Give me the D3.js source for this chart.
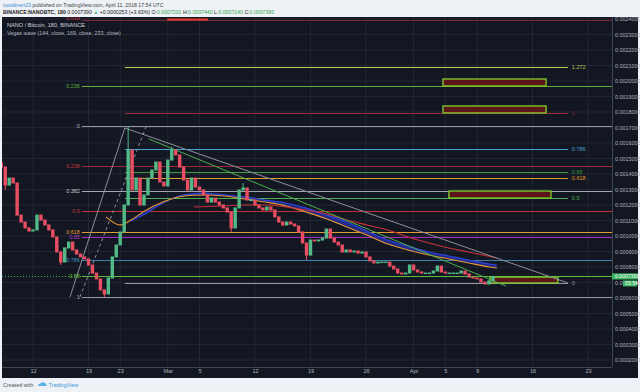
<!DOCTYPE html>
<html>
<head>
<meta charset="utf-8">
<script src="https://cdn.jsdelivr.net/npm/d3@7"></script>
<style>
  body { margin: 0; background: #eef1f5; }
  svg { display: block; font-family: "Liberation Sans", Arial, sans-serif; }
</style>
</head>
<body>
<svg id="chart" width="640" height="392"></svg>
<script>
// ---- data ----------------------------------------------------------------

// 12h closes from 2018-02-08 00:00 UTC
const candleStart = '2018-02-08T00:00:00Z'
const candleHours = 12
const firstOpen = 0.00147
const closes = [
  0.001445, 0.001329, 0.001374, 0.001342, 0.001135, 0.001090, 0.001052, 0.001032, 0.001039, 0.001135,
  0.001103, 0.001071, 0.001039, 0.000994, 0.000897, 0.000832, 0.000923, 0.000961, 0.000910, 0.000884,
  0.000865, 0.000852, 0.000813, 0.000761, 0.000723, 0.000652, 0.000626, 0.000729, 0.000865, 0.000942,
  0.001026, 0.001200, 0.001555, 0.001297, 0.001374, 0.001200, 0.001265, 0.001374, 0.001426, 0.001477,
  0.001348, 0.001323, 0.001490, 0.001555, 0.001523, 0.001445, 0.001361, 0.001297, 0.001374, 0.001316,
  0.001297, 0.001265, 0.001219, 0.001245, 0.001219, 0.001200, 0.001181, 0.001155, 0.001052, 0.001181,
  0.001297, 0.001310, 0.001232, 0.001232, 0.001200, 0.001181, 0.001168, 0.001187, 0.001168, 0.001123,
  0.001090, 0.001071, 0.001090, 0.001077, 0.001065, 0.001026, 0.000955, 0.000877, 0.000974, 0.000968,
  0.000974, 0.000987, 0.001045, 0.000987, 0.000961, 0.000942, 0.000897, 0.000910, 0.000897, 0.000903,
  0.000890, 0.000897, 0.000865, 0.000839, 0.000826, 0.000832, 0.000832, 0.000832, 0.000806, 0.000787,
  0.000761, 0.000755, 0.000761, 0.000813, 0.000781, 0.000768, 0.000761, 0.000761, 0.000761, 0.000774,
  0.000806, 0.000768, 0.000761, 0.000761, 0.000761, 0.000761, 0.000774, 0.000755, 0.000735, 0.000729,
  0.000723, 0.000703, 0.000690, 0.000710, 0.000739,
]
// [candle index, wick extreme]
const spikes = [[1, 0.001297], [15, 0.000813], [26, 0.000606], [32, 0.001710],
  [43, 0.001574], [58, 0.001026], [61, 0.001342], [77, 0.000845]]

// Vegas wave
const emaDates = ['2018-02-21T05:00Z', '2018-02-22T23:00Z', '2018-02-24T09:00Z', '2018-02-25T21:00Z',
  '2018-02-28T09:00Z', '2018-03-03T01:00Z', '2018-03-05T13:00Z', '2018-03-08T02:00Z', '2018-03-10T18:00Z',
  '2018-03-13T06:00Z', '2018-03-15T22:00Z', '2018-03-18T10:00Z', '2018-03-21T02:00Z', '2018-03-23T14:00Z',
  '2018-03-26T03:00Z', '2018-03-28T18:00Z', '2018-03-31T07:00Z', '2018-04-02T22:00Z', '2018-04-05T11:00Z',
  '2018-04-07T23:00Z', '2018-04-10T15:00Z', '2018-04-11T12:00Z']
const ema144 = [0.001123, 0.001071, 0.001103, 0.001155, 0.001219, 0.001258, 0.001265, 0.001258, 0.001239,
  0.001219, 0.001194, 0.001155, 0.001110, 0.001058, 0.001006, 0.000948, 0.000910, 0.000877, 0.000852,
  0.000826, 0.000800, 0.000794]
const ema169 = [null, null, 0.001097, 0.001135, 0.001213, 0.001265, 0.001277, 0.001265, 0.001252,
  0.001232, 0.001213, 0.001181, 0.001135, 0.001090, 0.001032, 0.000974, 0.000935, 0.000897, 0.000871,
  0.000845, 0.000819, 0.000813]
const ema233Dates = ['2018-03-04T07:00Z', '2018-03-08T02:00Z', '2018-03-10T18:00Z', '2018-03-13T06:00Z',
  '2018-03-15T22:00Z', '2018-03-18T10:00Z', '2018-03-21T02:00Z', '2018-03-23T14:00Z', '2018-03-26T03:00Z',
  '2018-03-28T18:00Z', '2018-03-31T07:00Z', '2018-04-02T22:00Z', '2018-04-05T11:00Z', '2018-04-07T23:00Z',
  '2018-04-11T12:00Z']
const ema233 = [0.001187, 0.001194, 0.001200, 0.001200, 0.001187, 0.001168, 0.001142, 0.001103, 0.001071,
  0.001039, 0.000994, 0.000955, 0.000923, 0.000897, 0.000858]

// fib retracements
const leftFibStart = '2018-02-18T04:00Z'
const leftFibPrices = [0.001710, 0.0006065]          // level 0, level 1
const leftLevels = [-0.618, -0.236, 0, 0.236, 0.382, 0.5, 0.618, 0.65, 0.786, 0.88, 1]
const leftLabels = ['0.618', '0.236', '0', '0.236', '0.382', '0.5', '0.618', '0.65', '0.786', '0.88', '1']
const rightFibSpan = ['2018-02-23T14:00Z', '2018-04-20T11:00Z']
const rightFibPrices = [0.000697, 0.0017935]
const rightLevels = [0, 0.5, 0.618, 0.65, 0.786, 1, 1.272]
const rightLabels = ['0', '0.5', '0.618', '0.65', '0.786', '1', '1.272']

// trend lines [date, price, date, price]
const trendLines = [
  ['2018-02-16T16:00Z', 0.0006065, '2018-02-23T14:00Z', 0.001697],
  ['2018-02-17T22:00Z', 0.0006065, '2018-02-26T06:00Z', 0.001703],
  ['2018-02-23T14:00Z', 0.001697, '2018-04-20T11:00Z', 0.000697],
  ['2018-02-26T15:00Z', 0.001626, '2018-04-12T16:00Z', 0.000677],
  ['2018-02-28T22:00Z', 0.002397, '2018-03-06T02:00Z', 0.002397],
]
// boxes [from, to, top price, bottom price]
const boxes = [
  ['2018-04-04T17:00Z', '2018-04-17T17:00Z', 0.002013, 0.001968],
  ['2018-04-04T17:00Z', '2018-04-17T17:00Z', 0.001839, 0.001794],
  ['2018-04-05T11:00Z', '2018-04-18T08:00Z', 0.001290, 0.001245],
  ['2018-04-10T15:00Z', '2018-04-19T05:00Z', 0.000735, 0.000697],
]

const lastPrice = 0.000739
const priceTicks = [0.0002, 0.0003, 0.0004, 0.0005, 0.0006, 0.0007, 0.0008, 0.0009, 0.0010, 0.0011, 0.0012,
  0.0013, 0.0014, 0.0015, 0.0016, 0.0017, 0.0018, 0.0019, 0.0020, 0.0021, 0.0022, 0.0023, 0.0024]
const timeTicks = ['2018-02-12', '2018-02-19', '2018-02-23', '2018-03-01', '2018-03-05', '2018-03-12',
  '2018-03-19', '2018-03-26', '2018-04-01', '2018-04-05', '2018-04-09', '2018-04-16', '2018-04-23']
const timeLabels = ['12', '19', '23', 'Mar', '5', '12', '19', '26', 'Apr', '5', '9', '16', '23']

// ---- styles ----------------------------------------------------------------
const leftColors = ['#7a2633', '#5fae3c', '#9598a1', '#9c2b33', '#a3a6ae', '#c0303a', '#e29a32',
  '#a02cc0', '#3b7fae', '#66be3a', '#9598a1']
const leftLabelColors = ['#c0303a', '#5fae3c', '#b2b5be', '#c23a42', '#c3c6ce', '#c8363f', '#e29a32',
  '#b040d0', '#4a90c0', '#66be3a', '#b2b5be']
const rightColors = ['#9598a1', '#4caf50', '#e29a32', '#3f9b3f', '#4aa3d6', '#9e2a33', '#b9cc55']
const trendColors = ['#8d909a', '#8d909a', '#8d909a', '#4caf50', '#e53935']
const up = '#53b987'
const down = '#e94e62'

/*----------------------------------------------------------------------------*/

const W = 640
const panel = { left: 2, top: 17, right: 638, bottom: 378 }
const plotRight = 612
const plotBottom = 367

const parse = s => new Date(s)
const x = d3.scaleUtc()
  .domain([new Date('2018-02-12T00:00Z'), new Date('2018-04-23T00:00Z')])
  .range([33, 588])
const y = d3.scaleLinear().domain([0.0024, 0.0002]).range([19, 360])
const fmt = d3.format('.7f')

const svg = d3.select('#chart')

svg.append('rect').attr('width', W).attr('height', 392).attr('fill', '#eef1f5')

// header
const h1 = svg.append('text').attr('x', 3).attr('y', 6.5).style('font-size', '5.2px')
h1.append('tspan').attr('fill', '#3a8fd6').text('tuosilinert23')
h1.append('tspan').attr('fill', '#444').text(' published on TradingView.com, April 11, 2018 17:54 UTC')

const h2 = svg.append('text').attr('x', 3).attr('y', 14).style('font-size', '5.2px')
const headerParts = [
  ['BINANCE:NANOBTC, 180 ', '#222', 'bold'], ['0.0007390 ', '#222'], ['\u25B2', '#53b987'],
  [' +0.0000253 (+3.63%) ', '#222'], ['O:', '#222'], ['0.0007201 ', '#2fa84f'], ['H:', '#222'],
  ['0.0007440 ', '#2fa84f'], ['L:', '#222'], ['0.0007140 ', '#2fa84f'], ['C:', '#222'], ['0.0007390', '#2fa84f'],
]
headerParts.forEach(([t, c, w]) => {
  h2.append('tspan').attr('fill', c).attr('font-weight', w || 'normal').text(t)
})

// dark panel
svg.append('rect')
  .attr('x', panel.left).attr('y', panel.top)
  .attr('width', panel.right - panel.left).attr('height', panel.bottom - panel.top)
  .attr('fill', '#131722')

svg.append('clipPath').attr('id', 'plot')
  .append('rect').attr('x', panel.left).attr('y', panel.top)
  .attr('width', plotRight - panel.left).attr('height', plotBottom - panel.top)

const plot = svg.append('g').attr('clip-path', 'url(#plot)')

// grid
plot.append('g').selectAll('line').data(priceTicks).enter().append('line')
  .attr('x1', panel.left).attr('x2', plotRight)
  .attr('y1', d => y(d)).attr('y2', d => y(d))
  .attr('stroke', '#222633').attr('stroke-width', 1)
plot.append('g').selectAll('line').data(timeTicks).enter().append('line')
  .attr('x1', d => x(parse(d))).attr('x2', d => x(parse(d)))
  .attr('y1', panel.top).attr('y2', plotBottom)
  .attr('stroke', '#222633').attr('stroke-width', 1)

// fib levels
const leftStartX = x(parse(leftFibStart))
const leftFib = leftLevels.map((lv, i) => ({
  p: leftFibPrices[0] + (leftFibPrices[1] - leftFibPrices[0]) * lv,
  label: leftLabels[i], color: leftColors[i], tc: leftLabelColors[i],
}))
plot.append('g').selectAll('line').data(leftFib).enter().append('line')
  .attr('x1', leftStartX).attr('x2', plotRight)
  .attr('y1', d => Math.round(y(d.p)) + 0.5).attr('y2', d => Math.round(y(d.p)) + 0.5)
  .attr('stroke', d => d.color).attr('stroke-width', 1)
plot.append('g').selectAll('text').data(leftFib).enter().append('text')
  .attr('x', leftStartX - 2).attr('y', (d, i) => y(d.p) + (i === 0 ? 0.2 : 2))
  .attr('text-anchor', 'end').style('font-size', '5.5px')
  .attr('fill', d => d.tc).text(d => d.label)

const rx0 = x(parse(rightFibSpan[0]))
const rx1 = x(parse(rightFibSpan[1]))
const rightFib = rightLevels.map((lv, i) => ({
  p: rightFibPrices[0] + (rightFibPrices[1] - rightFibPrices[0]) * lv,
  label: rightLabels[i], color: rightColors[i],
}))
plot.append('g').selectAll('line').data(rightFib).enter().append('line')
  .attr('x1', rx0).attr('x2', rx1)
  .attr('y1', d => Math.round(y(d.p)) + 0.5).attr('y2', d => Math.round(y(d.p)) + 0.5)
  .attr('stroke', d => d.color).attr('stroke-width', 1)
plot.append('g').selectAll('text').data(rightFib).enter().append('text')
  .attr('x', rx1 + 4).attr('y', d => y(d.p) + 2)
  .style('font-size', '5.5px')
  .attr('fill', d => d.color).text(d => d.label)

// boxes
plot.append('g').selectAll('rect').data(boxes).enter().append('rect')
  .attr('x', d => x(parse(d[0]))).attr('width', d => x(parse(d[1])) - x(parse(d[0])))
  .attr('y', d => y(d[2])).attr('height', d => y(d[3]) - y(d[2]))
  .attr('fill', '#5c1518').attr('stroke', '#7fd02c').attr('stroke-width', 1.3)

// Vegas wave
const ema = emaDates.map((d, i) => ({ t: parse(d), a: ema144[i], b: ema169[i] }))
plot.append('path').datum(ema.filter(d => d.b != null))
  .attr('d', d3.area().curve(d3.curveMonotoneX)
    .x(d => x(d.t)).y0(d => y(d.a)).y1(d => y(d.b)))
  .attr('fill', '#232f9a').attr('opacity', 0.85)
plot.append('path').datum(ema.filter(d => d.b != null))
  .attr('d', d3.line().curve(d3.curveMonotoneX).x(d => x(d.t)).y(d => y(d.b)))
  .attr('fill', 'none').attr('stroke', '#2f43d6').attr('stroke-width', 1.2)
plot.append('path').datum(ema)
  .attr('d', d3.line().curve(d3.curveMonotoneX).x(d => x(d.t)).y(d => y(d.a)))
  .attr('fill', 'none').attr('stroke', '#e8962e').attr('stroke-width', 1.1)
plot.append('path').datum(ema233Dates.map((d, i) => ({ t: parse(d), v: ema233[i] })))
  .attr('d', d3.line().curve(d3.curveMonotoneX).x(d => x(d.t)).y(d => y(d.v)))
  .attr('fill', 'none').attr('stroke', '#c9303a').attr('stroke-width', 1.1)

// trend lines
plot.append('g').selectAll('line').data(trendLines).enter().append('line')
  .attr('x1', d => x(parse(d[0]))).attr('y1', d => y(d[1]))
  .attr('x2', d => x(parse(d[2]))).attr('y2', d => y(d[3]))
  .attr('stroke', (d, i) => trendColors[i])
  .attr('stroke-width', (d, i) => i === 4 ? 2 : 1)
  .attr('stroke-dasharray', (d, i) => i === 1 ? '3,3' : null)

// candles
const t0 = parse(candleStart).getTime()
const candles = closes.map((c, i) => ({
  t: new Date(t0 + i * candleHours * 3600e3),
  o: i ? closes[i - 1] : firstOpen,
  c,
}))
spikes.forEach(([i, p]) => {
  const d = candles[i]
  plot.append('line')
    .attr('x1', x(d.t)).attr('x2', x(d.t))
    .attr('y1', y(p)).attr('y2', y(p > d.c ? Math.max(d.o, d.c) : Math.min(d.o, d.c)))
    .attr('stroke', d.c >= d.o ? up : down).attr('stroke-width', 1)
})
plot.append('g').selectAll('rect').data(candles).enter().append('rect')
  .attr('x', d => x(d.t) - 1.7).attr('width', 3.4)
  .attr('y', d => y(Math.max(d.o, d.c)) - 0.5)
  .attr('height', d => Math.max(1.5, Math.abs(y(d.o) - y(d.c)) + 1))
  .attr('fill', d => d.c >= d.o ? up : down)

// last price line
plot.append('line')
  .attr('x1', panel.left).attr('x2', plotRight)
  .attr('y1', y(lastPrice)).attr('y2', y(lastPrice))
  .attr('stroke', '#4caf50').attr('stroke-width', 1).attr('stroke-dasharray', '1,2')

// legend
svg.append('text').attr('x', 7).attr('y', 27).style('font-size', '5.6px')
  .attr('fill', '#d1d4dc').text('NANO / Bitcoin, 180, BINANCE')
svg.append('text').attr('x', 7).attr('y', 35.2).style('font-size', '5.4px')
  .attr('fill', '#b2b5be').text('Vegas wave (144, close, 169, close, 233, close)')

// axes
const yAxis = d3.axisRight(y).tickValues(priceTicks).tickFormat(fmt).tickSize(0).tickPadding(3)
svg.append('g').attr('transform', `translate(${plotRight},0)`).call(yAxis)
  .call(g => g.select('.domain').remove())
  .selectAll('text').attr('fill', '#b2b5be').style('font-size', '5.4px')

const xAxis = d3.axisBottom(x).tickValues(timeTicks.map(parse))
  .tickFormat((d, i) => timeLabels[i]).tickSize(0).tickPadding(2.5)
svg.append('g').attr('transform', `translate(0,${plotBottom})`).call(xAxis)
  .call(g => g.select('.domain').remove())
  .selectAll('text').attr('fill', '#b2b5be').style('font-size', '5.6px')

svg.append('line').attr('x1', plotRight + 0.5).attr('x2', plotRight + 0.5)
  .attr('y1', panel.top).attr('y2', plotBottom).attr('stroke', '#434651')
svg.append('line').attr('x1', panel.left).attr('x2', plotRight)
  .attr('y1', plotBottom + 0.5).attr('y2', plotBottom + 0.5).attr('stroke', '#434651')

// price labels
const ly = y(lastPrice)
svg.append('rect').attr('x', plotRight).attr('y', ly - 3).attr('width', 26).attr('height', 6)
  .attr('fill', '#3cb460')
svg.append('text').attr('x', plotRight + 3).attr('y', ly + 2).style('font-size', '5.2px')
  .attr('fill', '#fff').text(fmt(lastPrice))
svg.append('rect').attr('x', plotRight + 11).attr('y', ly + 4).attr('width', 14).attr('height', 6)
  .attr('fill', '#3cb460')
svg.append('text').attr('x', plotRight + 13).attr('y', ly + 9).style('font-size', '5.2px')
  .attr('fill', '#fff').text('05:54')

// footer
svg.append('text').attr('x', 3).attr('y', 386.5).style('font-size', '5.4px')
  .attr('fill', '#555').text('Created with')
svg.append('path')
  .attr('d', 'M38,386 q0,-2.5 2.5,-2.5 q1,-2 3,-1 q2.5,0 2.5,2 q1.2,0.3 1,1.5 z')
  .attr('fill', '#5ab4e6')
svg.append('text').attr('x', 48.5).attr('y', 386.5).style('font-size', '5.4px')
  .attr('fill', '#3a9ad9').text('TradingView')
</script>
</body>
</html>
